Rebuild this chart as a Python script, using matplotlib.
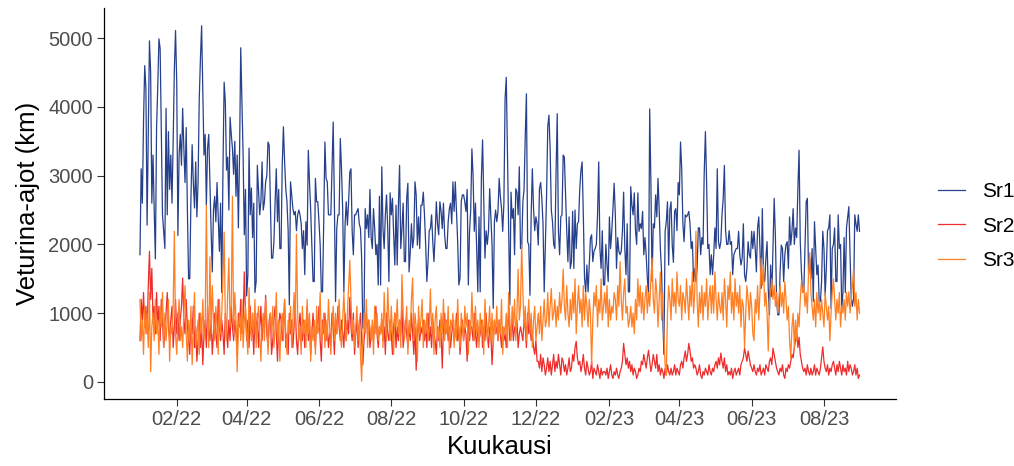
import matplotlib
matplotlib.use("Agg")
import matplotlib.pyplot as plt
import pandas as pd

start_date = "2022-01-01"

sr1 = [
    1850, 3100, 2600, 3800, 4600, 4270, 2280,
    3600, 4960, 4500, 2600, 3300, 2500, 1790,
    3700, 4300, 4990, 4850, 3600, 2430, 2180,
    1940, 3980, 2430, 3640, 2800, 3300, 2600,
    3500, 4550, 5110, 4360, 2130, 3300, 3600,
    3150, 3980, 3400, 2900, 3700, 2500, 1500,
    1500, 2670, 3450, 2900, 2530, 3200, 2400,
    2900, 4120, 4700, 5180, 4240, 3300, 3600,
    2570, 3400, 3600, 2900, 2200, 1600, 2500,
    2700, 2330, 2900, 2380, 1900, 2600, 1300,
    3080, 4360, 4070, 3080, 3270, 2500, 3850,
    3600, 3400, 3020, 3500, 2700, 3300, 2240,
    3300, 4860, 4100, 3300, 2140, 2800, 1250,
    1550, 3400, 2430, 2820, 2100, 2600, 1300,
    1460, 3150, 2800, 2430, 2620, 3200, 2500,
    2620, 2910, 3000, 3490, 3440, 2600, 1800,
    1800, 2040, 2620, 3100, 2330, 2800, 1940,
    1940, 3150, 3710, 3200, 2810, 2620, 2200,
    1120, 2910, 2720, 2520, 2430, 2480, 2200,
    2430, 2500, 2430, 2300, 1940, 2200, 1560,
    2330, 1990, 3370, 2910, 2500, 2000, 1460,
    1460, 2960, 2620, 2620, 2330, 2000, 1310,
    1310, 2330, 3490, 2960, 2910, 2430, 2430,
    2430, 3100, 3780, 2600, 1170, 2230, 2430,
    2430, 3540, 3100, 2500, 1310, 2280, 2620,
    2280, 2620, 3050, 3100, 2190, 1850, 2430,
    2430, 2480, 2520, 2300, 2230, 1800, 780,
    975, 2520, 2230, 2430, 2100, 2800, 2100,
    1940, 2520, 2230, 1850, 2000, 1410, 2700,
    1410, 3130, 2230, 1940, 2430, 2720, 2230,
    1460, 2750, 2430, 2670, 2140, 1700, 2570,
    1700, 2570, 3150, 1940, 2230, 2600, 1750,
    1750, 2670, 2890, 1600, 1890, 2300, 1950,
    2100, 2910, 2720, 1990, 2400, 1940, 2570,
    2570, 2760, 2430, 2000, 1460, 1750, 2200,
    2230, 2430, 2040, 1750, 2140, 2620, 2300,
    2140, 2620, 2480, 2230, 2600, 2140, 1940,
    1940, 2330, 2520, 2600, 2300, 2910, 2480,
    2910, 2480, 2040, 1410, 1510, 2620, 2720,
    2720, 2620, 2480, 2800, 1410, 2190, 2500,
    3390, 3000, 2190, 2600, 1940, 1310, 2400,
    1310, 2960, 3520, 2620, 1800, 2200, 2000,
    2190, 2810, 2400, 1990, 1070, 2330, 2500,
    2330, 2480, 2960, 2700, 2520, 2190, 2600,
    4120, 4430, 3300, 2200, 1120, 2760, 2380,
    2520, 1850, 2810, 2760, 2430, 3130, 1940,
    1940, 2620, 2800, 3570, 4190, 2040, 1990,
    1260, 2430, 3100, 2520, 2200, 2400, 2300,
    1990, 2810, 2900, 2670, 2300, 1310, 2000,
    2720, 3710, 3880, 3390, 2500, 2330, 2000,
    1940, 3050, 3900, 2190, 1850, 2400, 2430,
    3300, 3270, 2720, 2200, 1750, 2400, 1650,
    1750, 2480, 1650, 2500, 1940, 2300, 2330,
    2810, 3080, 3200, 2430, 1510, 1310, 1700,
    1310, 1700, 2090, 2140, 1750, 1900, 1940,
    2000, 2430, 3200, 1940, 1650, 2200, 1410,
    1410, 2000, 1700, 1460, 2400, 1940, 2190,
    2520, 2890, 2430, 1650, 2100, 1900, 1850,
    1900, 2200, 2760, 1940, 1560, 2300, 1310,
    1310, 2840, 2570, 2430, 2750, 2200, 2000,
    2750, 2190, 2300, 2230, 2480, 1850, 2100,
    1850, 1510, 1260, 3970, 2910, 1460, 2300,
    2240, 2720, 2400, 2960, 2500, 1940, 1600,
    930, 400, 2190, 2330, 2620, 1700, 2500,
    2620, 1990, 1740, 2480, 2520, 2200, 2900,
    2720, 3490, 3100, 2300, 2040, 2430, 2400,
    2430, 2480, 2300, 1940, 2040, 1460, 1650,
    1460, 1650, 2240, 2240, 1850, 2100, 2000,
    3050, 3640, 2910, 1940, 2000, 1560, 1850,
    1560, 1850, 2240, 1940, 3100, 2040, 1940,
    2040, 2430, 2670, 3150, 2200, 2000, 2000,
    2200, 2000, 2040, 1560, 1850, 1900, 1940,
    1940, 2190, 1850, 1700, 1800, 2300, 1560,
    1460, 1650, 2040, 1850, 1800, 2190, 1940,
    2190, 1940, 1600, 2240, 2400, 1940, 1360,
    2520, 1560, 1460, 1800, 2040, 1360, 975,
    1700, 1240, 1990, 2670, 2140, 1220, 975,
    975, 1600, 1990, 1940, 1460, 1850, 2000,
    2040, 1650, 2400, 1990, 2190, 2520, 2000,
    2240, 2100, 2810, 3370, 2040, 1600, 1310,
    1310, 1940, 2620, 2670, 1560, 1800, 1500,
    1940, 1170, 2330, 1940, 1560, 1700, 1170,
    1170, 1460, 2190, 1940, 1260, 1650, 2200,
    2240, 2430, 1070, 1940, 2000, 2240, 1460,
    1460, 2430, 1940, 2000, 1070, 1300, 2100,
    1300, 2240, 2400, 2550, 1850, 1220, 1100,
    1220, 2430, 2300, 2190, 2430, 2190,
]

sr2 = [
    600, 1200, 900, 1300, 800, 1100, 700,
    1400, 1900, 1200, 1650, 900, 1100, 700,
    1300, 800, 1100, 600, 1200, 900, 500,
    700, 1000, 1300, 800, 600, 900, 1100,
    500, 800, 1200, 700, 1000, 600, 900,
    1100, 1510, 900, 700, 1200, 800, 600,
    400, 900, 700, 1100, 500, 800, 300,
    600, 1000, 500, 800, 250, 700, 900,
    500, 1100, 800, 600, 900, 400, 700,
    1000, 700, 500, 1200, 800, 600, 900,
    700, 400, 1000, 800, 500, 900, 600,
    1100, 800, 600, 900, 700, 400, 1000,
    800, 1200, 700, 900, 1600, 1000, 600,
    900, 500, 1100, 700, 800, 400, 1000,
    700, 1000, 500, 800, 1100, 600, 900,
    800, 1260, 700, 500, 900, 1000, 400,
    600, 900, 1100, 700, 300, 800, 1000,
    900, 600, 800, 1200, 500, 700, 400,
    1000, 700, 900, 500, 800, 1100, 600,
    400, 800, 1000, 700, 600, 900, 500,
    800, 1100, 600, 900, 400, 700, 1000,
    700, 500, 900, 800, 1100, 600, 300,
    900, 700, 1000, 600, 800, 500, 700,
    600, 1000, 800, 400, 900, 700, 1100,
    800, 600, 900, 700, 500, 1000, 600,
    900, 700, 1230, 800, 600, 1000, 400,
    700, 900, 500, 800, 1000, 600, 250,
    600, 800, 1000, 700, 900, 500, 700,
    800, 600, 900, 1100, 700, 500, 800,
    700, 900, 600, 800, 400, 1000, 700,
    600, 900, 700, 400, 800, 1000, 500,
    800, 600, 900, 700, 1150, 500, 700,
    900, 700, 500, 800, 600, 1000, 700,
    400, 800, 170, 700, 900, 600, 800,
    700, 900, 600, 800, 500, 1000, 600,
    800, 500, 900, 700, 600, 400, 800,
    600, 900, 700, 200, 800, 1000, 700,
    900, 600, 800, 500, 700, 900, 600,
    700, 1000, 600, 800, 400, 700, 900,
    600, 800, 700, 300, 900, 600, 800,
    800, 600, 1000, 700, 500, 800, 600,
    700, 900, 500, 800, 600, 1000, 700,
    500, 800, 700, 250, 600, 900, 700,
    800, 600, 900, 700, 500, 800, 600,
    700, 500, 800, 1000, 600, 700, 900,
    600, 800, 700, 900, 500, 700, 800,
    700, 600, 900, 800, 500, 1000, 700,
    800, 600, 700, 500, 400, 600, 300,
    300, 200, 400, 150, 350, 250, 100,
    200, 350, 150, 300, 100, 250, 400,
    150, 300, 200, 400, 250, 100, 350,
    300, 150, 250, 100, 200, 350, 150,
    200, 400, 300, 500, 590, 350, 250,
    300, 150, 250, 400, 200, 100, 300,
    200, 100, 150, 300, 50, 200, 150,
    100, 250, 150, 50, 200, 100, 150,
    150, 100, 200, 50, 150, 250, 100,
    50, 150, 100, 200, 100, 50, 150,
    200, 300, 560, 400, 250, 350, 200,
    300, 150, 250, 100, 200, 150, 50,
    100, 200, 150, 300, 250, 400, 300,
    200, 350, 460, 300, 150, 250, 400,
    300, 200, 400, 150, 250, 100, 200,
    150, 50, 200, 100, 250, 150, 100,
    200, 100, 150, 250, 100, 200, 150,
    100, 250, 300, 200, 350, 450, 300,
    400, 560, 450, 300, 350, 200, 250,
    200, 100, 150, 250, 100, 50, 150,
    100, 200, 150, 100, 250, 150, 100,
    200, 150, 250, 300, 200, 350, 250,
    420, 300, 200, 350, 150, 250, 100,
    150, 100, 200, 50, 150, 200, 100,
    150, 200, 100, 250, 300, 350, 490,
    400, 300, 450, 350, 250, 200, 150,
    250, 150, 100, 200, 150, 250, 100,
    150, 200, 100, 250, 200, 150, 300,
    350, 250, 490, 400, 300, 200, 150,
    100, 200, 150, 250, 100, 50, 200,
    150, 250, 200, 300, 400, 350, 500,
    600, 730, 500, 650, 400, 300, 200,
    150, 200, 100, 250, 150, 100, 200,
    100, 150, 250, 100, 200, 150, 100,
    200, 350, 510, 300, 200, 150, 250,
    100, 200, 150, 250, 300, 200, 100,
    250, 150, 300, 200, 100, 250, 150,
    200, 100, 300, 150, 250, 200, 100,
    150, 250, 100, 200, 50, 100,
]

sr3 = [
    1200, 600, 900, 400, 1100, 700, 1000,
    500, 1300, 150, 800, 1000, 600, 1200,
    700, 900, 400, 1100, 800, 1300, 500,
    1000, 600, 900, 1200, 300, 800, 700,
    1100, 2190, 700, 400, 900, 1200, 600,
    800, 500, 1000, 1400, 700, 300, 900,
    600, 1100, 250, 800, 1300, 500, 700,
    900, 400, 1000, 700, 1200, 600, 800,
    2570, 1000, 500, 1820, 700, 1400, 900,
    600, 1100, 800, 400, 1200, 700, 1000,
    1500, 2180, 900, 600, 1300, 1800, 800,
    1100, 2700, 700, 1300, 900, 150, 800,
    1000, 600, 1200, 500, 900, 1100, 700,
    400, 1370, 800, 600, 1000, 700, 1200,
    500, 900, 1100, 700, 300, 800, 1000,
    600, 1200, 900, 400, 800, 1000, 700,
    1100, 500, 800, 1300, 600, 900, 300,
    800, 1000, 600, 1200, 700, 400, 900,
    700, 1100, 500, 900, 1300, 800, 2150,
    1000, 600, 800, 400, 1100, 700, 900,
    500, 1200, 700, 1000, 300, 800, 600,
    900, 400, 1100, 700, 800, 1300, 600,
    700, 1000, 500, 900, 600, 1200, 800,
    400, 800, 1100, 600, 1000, 700, 900,
    1200, 700, 500, 900, 1300, 800, 600,
    1000, 1400, 1770, 1200, 700, 900, 500,
    800, 1100, 600, 900, 400, 10, 700,
    1000, 700, 1200, 500, 900, 800, 600,
    900, 400, 1100, 700, 1000, 600, 800,
    700, 1000, 500, 1300, 800, 600, 1370,
    900, 600, 1100, 700, 400, 1000, 800,
    1200, 700, 900, 500, 1560, 1000, 600,
    800, 1100, 400, 900, 700, 1200, 1510,
    600, 1000, 800, 300, 1100, 700, 900,
    1200, 500, 900, 700, 1000, 600, 800,
    1350, 700, 1000, 400, 900, 1100, 600,
    800, 500, 1000, 700, 1200, 600, 900,
    700, 1100, 400, 900, 800, 1000, 500,
    900, 600, 1200, 700, 500, 1000, 800,
    600, 1100, 800, 1000, 400, 900, 700,
    1300, 800, 600, 1100, 700, 900, 500,
    1000, 700, 900, 400, 1200, 800, 600,
    800, 1100, 600, 1000, 500, 900, 700,
    1100, 600, 900, 700, 1200, 400, 800,
    700, 1000, 500, 1300, 900, 600, 1100,
    800, 1200, 600, 1000, 1640, 900, 1100,
    2000, 1300, 800, 1100, 600, 900, 1200,
    700, 1000, 500, 900, 1100, 600, 800,
    1000, 700, 1100, 600, 900, 1200, 800,
    900, 1300, 800, 1100, 1360, 900, 1000,
    1200, 800, 1100, 900, 1300, 1000, 1200,
    1640, 1100, 900, 1400, 1000, 800, 1200,
    900, 1300, 1000, 1500, 700, 1100, 1400,
    1000, 1200, 800, 1400, 900, 1300, 1100,
    800, 1200, 1000, 250, 900, 1300, 1100,
    1400, 800, 1200, 1000, 1500, 900, 1100,
    1300, 1000, 1400, 800, 1200, 900, 1100,
    1000, 1300, 1200, 900, 1400, 1100, 1750,
    1200, 900, 1300, 1500, 1000, 1100, 800,
    900, 1100, 800, 1000, 700, 1200, 900,
    1500, 1100, 1400, 1000, 1300, 900, 1200,
    1400, 1000, 1300, 1100, 1500, 1800, 1200,
    1000, 1500, 1300, 800, 1200, 1600, 900,
    1300, 700, 250, 100, 1000, 1400, 1200,
    900, 1500, 1100, 1300, 1000, 1600, 1200,
    1100, 1400, 900, 1300, 1200, 1000, 1500,
    1200, 900, 1400, 1100, 1600, 1000, 1300,
    2190, 1200, 800, 1300, 1000, 1400, 900,
    1300, 1100, 1500, 900, 1200, 1400, 1000,
    1400, 1000, 1600, 1200, 900, 1300, 1100,
    1000, 1300, 900, 1500, 1200, 800, 1400,
    1200, 1600, 1000, 1300, 900, 1500, 1100,
    1300, 1000, 1400, 800, 1200, 1100, 500,
    1000, 1400, 1200, 900, 1300, 1100, 700,
    600, 1200, 1000, 1400, 900, 1300, 1800,
    1400, 1700, 1100, 1300, 1000, 450, 1200,
    1300, 1500, 1200, 1400, 1100, 1300, 1000,
    1200, 1400, 1100, 1300, 1000, 1460, 1200,
    900, 1100, 600, 350, 800, 1000, 500,
    900, 600, 1000, 800, 1200, 1460, 1300,
    1400, 1100, 1300, 1000, 1600, 1880, 1300,
    1100, 900, 1200, 800, 1300, 1000, 1200,
    900, 1200, 1000, 800, 1300, 1100, 900,
    1100, 600, 1000, 1300, 1500, 1200, 900,
    1200, 1000, 1300, 800, 1100, 1000, 1200,
    900, 1300, 1100, 1310, 1000, 1200, 1400,
    1650, 1100, 1300, 900, 1200, 1000,
]

series_names = ["Sr1", "Sr2", "Sr3"]
series_colors = ["#27408B", "#EE2C2C", "#FF7F24"]
tick_dates = ["2022-02-01", "2022-04-01", "2022-06-01", "2022-08-01", "2022-10-01",
              "2022-12-01", "2023-02-01", "2023-04-01", "2023-06-01", "2023-08-01"]
tick_labels = ["02/22", "04/22", "06/22", "08/22", "10/22",
               "12/22", "02/23", "04/23", "06/23", "08/23"]
y_ticks = [0, 1000, 2000, 3000, 4000, 5000]

plt.rcParams['font.family'] = ['Liberation Sans', 'DejaVu Sans']

fig = plt.figure(figsize=(10.14, 4.66), dpi=100)
ax = fig.add_axes([104 / 1014, (466 - 399) / 466, (895.5 - 104) / 1014, (399 - 8) / 466])

for name, vals, col in zip(series_names, [sr1, sr2, sr3], series_colors):
    dates = pd.date_range(start_date, periods=len(vals), freq="D")
    ax.plot(dates, vals, color=col, linewidth=0.9, label=name)

ax.margins(x=0.05, y=0.05)
ax.set_xticks(pd.to_datetime(tick_dates))
ax.set_xticklabels(tick_labels)
ax.set_yticks(y_ticks)
ax.set_yticklabels([str(v) for v in y_ticks])

for s in ["top", "right"]:
    ax.spines[s].set_visible(False)
for s in ["left", "bottom"]:
    ax.spines[s].set_color("black")
    ax.spines[s].set_linewidth(0.9)

ax.tick_params(axis="both", length=5, width=0.8, color="#333333",
               labelsize=14.5, labelcolor="#4D4D4D", pad=3)

ax.set_xlabel("Kuukausi", fontsize=18.5, color="black", labelpad=4)
ax.set_ylabel("Veturina-ajot (km)", fontsize=18.5, color="black", labelpad=6)

leg = ax.legend(loc="center left", bbox_to_anchor=(1.03, 0.442), frameon=False,
                fontsize=15, handlelength=1.3, handletextpad=0.8,
                labelspacing=0.75)

fig.savefig("out.png", dpi=100)
